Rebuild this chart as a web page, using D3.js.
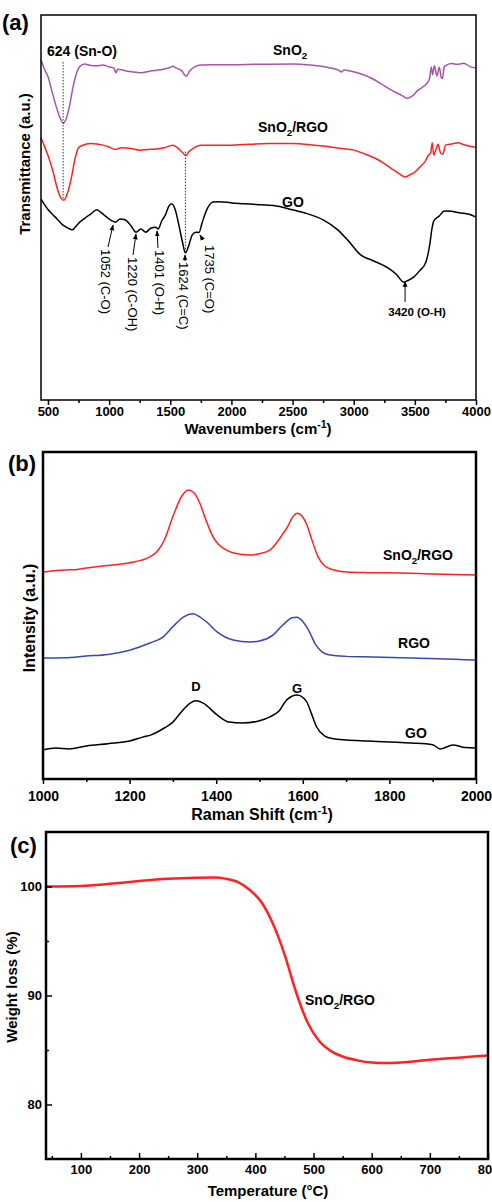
<!DOCTYPE html>
<html><head><meta charset="utf-8">
<script src="https://cdn.jsdelivr.net/npm/d3@7"></script>
<style>
body{margin:0;background:#fff}
svg{display:block;font-family:"Liberation Sans",Arial,sans-serif;font-weight:bold}
</style></head><body>
<svg id="chart" width="492" height="1202"></svg>
<script>
// (a) FTIR, transmittance in arbitrary units
const ftirSnO2 = [[443,88.3],[470,86],[500,84],[530,80.5],[560,77],[600,73.2],[624,71.9],[650,73.2],[680,77],[700,80.5],[730,84.5],[760,86.6],[800,87.3],[850,86.9],[900,86.8],[950,87],[1000,86.5],[1040,86.2],[1055,85],[1070,85.9],[1100,85.8],[1150,85.4],[1200,85.2],[1250,85.0],[1300,85.2],[1350,85.5],[1400,85.7],[1450,86],[1490,86.3],[1520,86.7],[1550,86.2],[1590,85.6],[1630,84.1],[1660,85.5],[1700,86.5],[1750,87],[1850,87.1],[2000,87.1],[2200,87.2],[2500,87.3],[2650,87],[2800,86.3],[2880,85.6],[2900,85.2],[2920,85.7],[2980,85.4],[3050,84.8],[3150,83.5],[3250,81.6],[3350,79.8],[3400,79],[3440,78.4],[3480,79],[3520,80.3],[3560,81.2],[3600,82.3],[3620,83.5],[3635,86.5],[3645,84.5],[3660,86.8],[3680,84.2],[3700,86.4],[3715,83.8],[3725,83.5],[3740,86.5],[3760,87],[3800,87.4],[3850,87.2],[3900,87.5],[3950,86.6],[4000,86.2]];
const ftirComposite = [[443,68.1],[470,66],[500,63.5],[540,59.5],[580,54.5],[610,52.3],[630,51.9],[660,53.8],[690,57.5],[720,62.5],[750,65.5],[780,66.1],[850,66.6],[950,66.2],[1000,65.7],[1050,65.1],[1100,65.5],[1180,65.3],[1250,64.9],[1350,65.1],[1450,65.5],[1520,66.2],[1560,65.5],[1600,64.3],[1630,63.5],[1650,64.4],[1700,65.6],[1750,66.2],[2000,66.2],[2300,66.6],[2500,66.6],[2700,66.1],[2800,65.8],[2900,65.3],[3000,64.9],[3100,63.8],[3200,62.4],[3300,60.3],[3380,58.6],[3420,57.9],[3460,58.5],[3500,59.2],[3550,60.8],[3580,61.8],[3610,63.5],[3630,64.3],[3642,66.8],[3655,63.6],[3670,64.8],[3690,66.4],[3710,64.2],[3730,63.9],[3750,66.2],[3800,66.5],[3850,66.8],[3900,66.3],[3950,65.9],[4000,65.6]];
const ftirGO = [[443,52.2],[500,49.5],[560,47.5],[620,45.5],[660,44.7],[700,44.2],[720,44.8],[760,46.2],[800,47.2],[850,48.3],[900,49.4],[930,48.8],[980,47.5],[1020,46.6],[1052,46.2],[1090,47],[1130,46.8],[1180,45.2],[1220,43.6],[1260,44.4],[1300,43.6],[1340,44.6],[1380,44.9],[1401,44.4],[1430,46.5],[1460,48.1],[1490,50.4],[1510,51],[1540,49.5],[1570,45.5],[1600,41],[1624,38.2],[1650,40],[1680,42.9],[1710,43.6],[1735,43.5],[1760,46],[1800,49.5],[1850,51.4],[1900,51.5],[2000,51.2],[2100,51],[2200,50.8],[2345,50.5],[2500,49.4],[2620,48.4],[2750,46.8],[2870,44.2],[2960,41.2],[3057,37.7],[3150,36.3],[3280,34.3],[3350,32.6],[3410,30.6],[3440,31],[3490,31.9],[3540,33.6],[3590,35.8],[3620,40],[3640,44.5],[3655,46.5],[3700,47.8],[3740,49.1],[3800,49],[3850,48.7],[3900,48.5],[3950,48.2],[4000,47.5]];
const ftirTicks = [500,1000,1500,2000,2500,3000,3500,4000];
const ftirBands = [
  {text:'1052 (C-O)', x:1052, v:46.2},
  {text:'1220 (C-OH)', x:1220, v:43.6},
  {text:'1401 (O-H)', x:1401, v:44.4},
  {text:'1624 (C=C)', x:1624, v:38.2},
  {text:'1735 (C=O)', x:1735, v:43.5}
];

// (b) Raman
const ramanComposite = [[1000,63.3],[1020,63.6],[1050,63.9],[1080,64.1],[1100,64.5],[1150,65.3],[1200,66.1],[1247,67.9],[1265,69.8],[1280,73],[1300,80.3],[1320,86.4],[1335,88.4],[1348,87.6],[1362,84.4],[1378,78.6],[1393,74],[1405,71.8],[1420,70.3],[1440,69.1],[1478,68.5],[1500,68.9],[1524,70],[1540,72.3],[1552,74.6],[1565,77.2],[1575,79.8],[1587,81.3],[1598,80.4],[1610,77.5],[1621,73.1],[1635,68],[1650,65.2],[1670,64],[1702,63.3],[1750,63.1],[1825,63],[1900,62.7],[2000,62.4]];
const ramanRGO = [[1000,37],[1050,37.1],[1100,37.6],[1150,38.1],[1200,39.4],[1247,41.6],[1277,43.4],[1300,46.6],[1325,49.6],[1346,50.5],[1362,49.6],[1378,48],[1402,45],[1439,42.5],[1478,41.9],[1500,42.2],[1531,44],[1554,47.1],[1575,49.3],[1586,49.5],[1600,48.2],[1613,45.6],[1630,41],[1645,38.8],[1663,37.9],[1700,37.5],[1762,37.3],[1850,37],[1950,36.6],[2000,36.4]];
const ramanGO = [[1000,8.9],[1030,9.5],[1060,9.2],[1100,10.1],[1150,10.8],[1200,11.6],[1230,12.8],[1250,13.5],[1280,15.6],[1300,17.4],[1320,20.6],[1340,23.2],[1353,23.9],[1370,23.2],[1402,19.6],[1430,17.4],[1460,17.1],[1500,17.8],[1524,19],[1545,20.8],[1563,24.2],[1587,25.7],[1608,23.8],[1620,20],[1632,15.9],[1650,13.2],[1670,12.3],[1700,11.9],[1750,11.6],[1801,11.3],[1850,11],[1900,10.5],[1917,9.2],[1947,10.4],[1975,9.6],[2000,9.5]];
const ramanTicks = [1000,1200,1400,1600,1800,2000];

// (c) TGA
const tgaComposite = [[40,100.0],[100,100.05],[150,100.25],[200,100.5],[250,100.7],[300,100.8],[330,100.82],[350,100.7],[370,100.4],[390,99.7],[410,98.6],[430,96.6],[450,93.8],[470,90.3],[490,87.5],[510,85.8],[530,84.9],[550,84.4],[575,84.05],[600,83.85],[625,83.8],[650,83.85],[700,84.1],[750,84.3],[800,84.5]];
const tgaXTicks = [100,200,300,400,500,600,700,800];
const tgaYTicks = [80,90,100];

const svg = d3.select('#chart');
const font = '"Liberation Sans",Arial,sans-serif';

svg.append('defs').append('marker')
  .attr('id', 'arrow')
  .attr('viewBox', '0 0 10 10')
  .attr('refX', 9).attr('refY', 5)
  .attr('markerWidth', 6).attr('markerHeight', 6)
  .attr('orient', 'auto')
  .append('path').attr('d', 'M0,1 L10,5 L0,9 Z').attr('fill', '#000');

function drawLine(x, y, data, color, w) {
  svg.append('path')
    .datum(data)
    .attr('fill', 'none')
    .attr('stroke', color)
    .attr('stroke-width', w)
    .attr('stroke-linejoin', 'round')
    .attr('d', d3.line().curve(d3.curveMonotoneX).x(d => x(d[0])).y(d => y(d[1])));
}

function frame(x, y, w) {
  svg.append('rect')
    .attr('x', x.range()[0]).attr('y', y.range()[1])
    .attr('width', x.range()[1] - x.range()[0])
    .attr('height', y.range()[0] - y.range()[1])
    .attr('fill', 'none').attr('stroke', '#000').attr('stroke-width', w);
}

function styleAxis(g, size) {
  g.attr('font-family', font).attr('font-weight', 'bold').attr('font-size', size);
  g.select('.domain').remove();
  g.selectAll('line').attr('stroke-width', 1.5);
}

function label(x, y, parts, size, opts = {}) {
  const t = svg.append('text')
    .attr('x', x).attr('y', y)
    .attr('font-size', size)
    .attr('text-anchor', opts.anchor || 'start');
  if (opts.rotate) t.attr('transform', `rotate(${opts.rotate},${x},${y})`);
  if (opts.weight) t.attr('font-weight', opts.weight);
  let shift = 0;
  parts.forEach(p => {
    if (typeof p === 'string') {
      t.append('tspan').attr('dy', -shift).text(p);
      shift = 0;
    } else if (p.sub) {
      shift = size * 0.3;
      t.append('tspan').attr('dy', shift).attr('font-size', size * 0.7).text(p.sub);
    } else if (p.sup) {
      shift = -size * 0.4;
      t.append('tspan').attr('dy', shift).attr('font-size', size * 0.7).text(p.sup);
    }
  });
  return t;
}

// ---------- (a) ----------
const xA = d3.scaleLinear().domain([443, 4000]).range([41, 476]);
const yA = d3.scaleLinear().domain([0, 100]).range([400, 15]);

drawLine(xA, yA, ftirSnO2, '#a855a8', 1.5);
drawLine(xA, yA, ftirComposite, '#f22', 1.5);
drawLine(xA, yA, ftirGO, '#000', 1.5);

svg.append('line')
  .attr('x1', xA(624)).attr('x2', xA(624))
  .attr('y1', yA(87.8)).attr('y2', yA(51.9))
  .attr('stroke', '#333').attr('stroke-dasharray', '1.5,1.5');
svg.append('line')
  .attr('x1', xA(1624)).attr('x2', xA(1624))
  .attr('y1', yA(64.5)).attr('y2', yA(38.6))
  .attr('stroke', '#333').attr('stroke-dasharray', '1.5,1.5');

const bandText = [[101, 249, 108, 247, 113, 225], [128, 257, 133, 255, 136, 234], [155, 250, 158, 248, 157, 231], [179, 262, 185, 261, 185, 255], [205, 245, 203, 240, 200, 235]];
ftirBands.forEach((b, i) => {
  const [tx, ty, ax1, ay1, ax2, ay2] = bandText[i];
  svg.append('line')
    .attr('x1', ax1).attr('y1', ay1).attr('x2', ax2).attr('y2', ay2)
    .attr('stroke', '#000').attr('stroke-width', 1).attr('marker-end', 'url(#arrow)');
  label(tx, ty, [b.text], 13, {rotate: 90, weight: 'normal'});
});
svg.append('line')
  .attr('x1', xA(3420)).attr('x2', xA(3420)).attr('y1', 302).attr('y2', yA(30.8))
  .attr('stroke', '#000').attr('stroke-width', 1).attr('marker-end', 'url(#arrow)');
label(xA(3420) + 12, 316, ['3420 (O-H)'], 11.5, {anchor: 'middle'});

label(47, 56, ['624 (Sn-O)'], 14);
label(273, 55, ['SnO', {sub: '2'}], 14);
label(258, 132, ['SnO', {sub: '2'}, '/RGO'], 14);
label(282, 207, ['GO'], 14);

frame(xA, yA, 1.5);
svg.append('g')
  .attr('transform', `translate(0,${yA.range()[0]})`)
  .call(d3.axisBottom(xA).tickValues(ftirTicks).tickSize(5).tickPadding(2).tickFormat(d3.format('d')))
  .call(g => styleAxis(g, 13));
svg.append('g')
  .attr('transform', `translate(0,${yA.range()[0]})`)
  .call(d3.axisBottom(xA).tickValues(d3.range(750, 4000, 500)).tickSize(3).tickFormat(''))
  .call(g => styleAxis(g, 13));

label(258, 434, ['Wavenumbers (cm', {sup: '-1'}, ')'], 15, {anchor: 'middle'});
label(30, 164, ['Transmittance (a.u.)'], 15, {anchor: 'middle', rotate: -90});
label(2, 30, ['(a)'], 22);

// ---------- (b) ----------
const xB = d3.scaleLinear().domain([1000, 2000]).range([43, 476]);
const yB = d3.scaleLinear().domain([0, 100]).range([779, 452]);

drawLine(xB, yB, ramanComposite, '#f22', 1.5);
drawLine(xB, yB, ramanRGO, '#3848b0', 1.5);
drawLine(xB, yB, ramanGO, '#000', 1.5);

label(383, 560, ['SnO', {sub: '2'}, '/RGO'], 14);
label(414, 648, ['RGO'], 14, {anchor: 'middle'});
label(416, 738, ['GO'], 14, {anchor: 'middle'});
label(xB(1353), 691, ['D'], 13, {anchor: 'middle'});
label(xB(1587), 693, ['G'], 13, {anchor: 'middle'});

frame(xB, yB, 2.5);
svg.append('g')
  .attr('transform', `translate(0,${yB.range()[0]})`)
  .call(d3.axisBottom(xB).tickValues(ramanTicks).tickSize(5).tickPadding(7).tickFormat(d3.format('d')))
  .call(g => styleAxis(g, 14));
svg.append('g')
  .attr('transform', `translate(0,${yB.range()[0]})`)
  .call(d3.axisBottom(xB).tickValues(d3.range(1100, 2000, 200)).tickSize(3).tickFormat(''))
  .call(g => styleAxis(g, 14));

label(262, 820, ['Raman Shift (cm', {sup: '-1'}, ')'], 16, {anchor: 'middle'});
label(35, 618, ['Intensity (a.u.)'], 16, {anchor: 'middle', rotate: -90});
label(8, 471, ['(b)'], 22);

// ---------- (c) ----------
const xC = d3.scaleLinear().domain([40, 800]).range([46, 488]);
const yC = d3.scaleLinear().domain([75, 105]).range([1159, 832]);

drawLine(xC, yC, tgaComposite, '#f22', 2.5);
label(305, 1005, ['SnO', {sub: '2'}, '/RGO'], 14);

frame(xC, yC, 2.5);
svg.append('g')
  .attr('transform', `translate(0,${yC.range()[0]})`)
  .call(d3.axisBottom(xC).tickValues(tgaXTicks).tickSize(-6).tickPadding(6))
  .call(g => styleAxis(g, 13));
svg.append('g')
  .attr('transform', `translate(0,${yC.range()[0]})`)
  .call(d3.axisBottom(xC).tickValues(d3.range(50, 800, 100)).tickSize(-3).tickFormat(''))
  .call(g => styleAxis(g, 13));
svg.append('g')
  .attr('transform', `translate(${xC.range()[0]},0)`)
  .call(d3.axisLeft(yC).tickValues(tgaYTicks).tickSize(-6).tickPadding(4))
  .call(g => styleAxis(g, 13));
svg.append('g')
  .attr('transform', `translate(${xC.range()[0]},0)`)
  .call(d3.axisLeft(yC).tickValues([85, 95]).tickSize(-3).tickFormat(''))
  .call(g => styleAxis(g, 13));

label(268, 1196, ['Temperature (°C)'], 15, {anchor: 'middle'});
label(17, 987, ['Weight loss (%)'], 15, {anchor: 'middle', rotate: -90});
label(10, 853, ['(c)'], 22);
</script>
</body></html>
